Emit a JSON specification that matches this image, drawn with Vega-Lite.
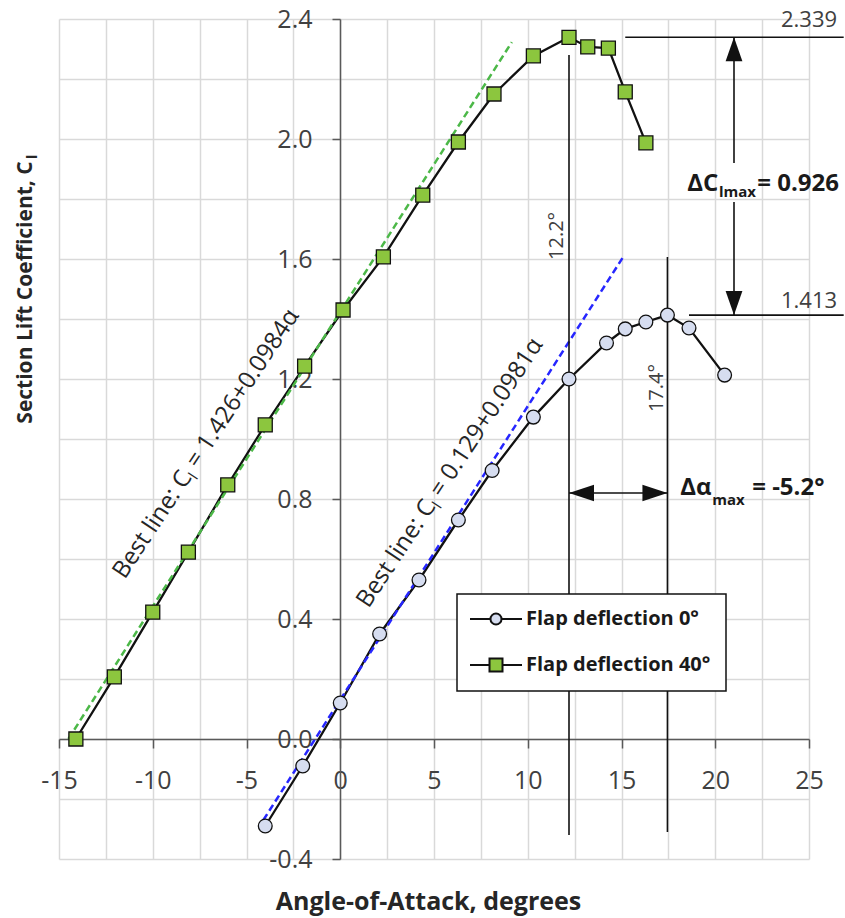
{
  "$schema": "https://vega.github.io/schema/vega-lite/v6.json",
  "width": 750,
  "height": 840,
  "autosize": {"type": "none"},
  "padding": {"left": 59, "top": 19, "right": 36, "bottom": 59},
  "background": "white",
  "config": {"font": "Open Sans", "view": {"stroke": null}},
  "datasets": {
    "curves": [
      {"series": "Flap deflection 0°", "x": -4.0, "y": -0.29},
      {"series": "Flap deflection 0°", "x": -2.0, "y": -0.09},
      {"series": "Flap deflection 0°", "x": 0.0, "y": 0.12},
      {"series": "Flap deflection 0°", "x": 2.1, "y": 0.35},
      {"series": "Flap deflection 0°", "x": 4.2, "y": 0.53},
      {"series": "Flap deflection 0°", "x": 6.3, "y": 0.73},
      {"series": "Flap deflection 0°", "x": 8.1, "y": 0.895},
      {"series": "Flap deflection 0°", "x": 10.3, "y": 1.073},
      {"series": "Flap deflection 0°", "x": 12.2, "y": 1.2},
      {"series": "Flap deflection 0°", "x": 14.2, "y": 1.32},
      {"series": "Flap deflection 0°", "x": 15.2, "y": 1.367},
      {"series": "Flap deflection 0°", "x": 16.3, "y": 1.39},
      {"series": "Flap deflection 0°", "x": 17.45, "y": 1.413},
      {"series": "Flap deflection 0°", "x": 18.6, "y": 1.37},
      {"series": "Flap deflection 0°", "x": 20.5, "y": 1.213},
      {"series": "Flap deflection 40°", "x": -14.1, "y": 0.0},
      {"series": "Flap deflection 40°", "x": -12.05, "y": 0.207},
      {"series": "Flap deflection 40°", "x": -10.0, "y": 0.423},
      {"series": "Flap deflection 40°", "x": -8.1, "y": 0.623},
      {"series": "Flap deflection 40°", "x": -6.0, "y": 0.847},
      {"series": "Flap deflection 40°", "x": -4.0, "y": 1.047},
      {"series": "Flap deflection 40°", "x": -1.9, "y": 1.243},
      {"series": "Flap deflection 40°", "x": 0.15, "y": 1.43},
      {"series": "Flap deflection 40°", "x": 2.3, "y": 1.607},
      {"series": "Flap deflection 40°", "x": 4.4, "y": 1.813},
      {"series": "Flap deflection 40°", "x": 6.3, "y": 1.99},
      {"series": "Flap deflection 40°", "x": 8.2, "y": 2.15},
      {"series": "Flap deflection 40°", "x": 10.3, "y": 2.277},
      {"series": "Flap deflection 40°", "x": 12.2, "y": 2.339},
      {"series": "Flap deflection 40°", "x": 13.2, "y": 2.307},
      {"series": "Flap deflection 40°", "x": 14.3, "y": 2.303},
      {"series": "Flap deflection 40°", "x": 15.2, "y": 2.157},
      {"series": "Flap deflection 40°", "x": 16.3, "y": 1.987}
    ],
    "fits": [
      {"fit": "40", "x": -14.5, "y": 0.0},
      {"fit": "40", "x": 9.15, "y": 2.323},
      {"fit": "0", "x": -4.1, "y": -0.27},
      {"fit": "0", "x": 15.05, "y": 1.603}
    ],
    "rules": [
      {"x": 12.2, "y": 2.28, "x2": 12.2, "y2": -0.32},
      {"x": 17.45, "y": 1.607, "x2": 17.45, "y2": -0.31},
      {"x": 15.2, "y": 2.339, "x2": 26.85, "y2": 2.339},
      {"x": 18.6, "y": 1.413, "x2": 26.85, "y2": 1.413},
      {"x": 21.0, "y": 2.339, "x2": 21.0, "y2": 1.92},
      {"x": 21.0, "y": 1.79, "x2": 21.0, "y2": 1.413},
      {"x": 12.2, "y": 0.82, "x2": 17.45, "y2": 0.82}
    ],
    "heads": [
      {"x": 21.0, "y": 2.339, "dir": "up"},
      {"x": 21.0, "y": 1.413, "dir": "down"},
      {"x": 12.2, "y": 0.82, "dir": "left"},
      {"x": 17.45, "y": 0.82, "dir": "right"}
    ],
    "values": [
      {"x": 26.5, "y": 2.373, "text": "2.339"},
      {"x": 26.5, "y": 1.437, "text": "1.413"}
    ],
    "angles": [
      {"x": 11.57, "y": 1.677, "text": "12.2°"},
      {"x": 16.91, "y": 1.17, "text": "17.4°"}
    ],
    "deltas": [
      {"x": 18.51, "y": 1.827, "text": "ΔC"},
      {"x": 22.24, "y": 1.827, "text": "= 0.926"},
      {"x": 18.13, "y": 0.813, "text": "Δα"},
      {"x": 21.97, "y": 0.813, "text": "= -5.2°"}
    ],
    "subs": [
      {"x": 20.2, "y": 1.807, "text": "lmax"},
      {"x": 19.84, "y": 0.78, "text": "max"}
    ],
    "bestline": [
      {"x": -11.5, "y": 0.53, "p1": "Best line: C", "p2": "l", "p3": "= 1.426+0.0984α"},
      {"x": 1.5, "y": 0.433, "p1": "Best line: C", "p2": "l", "p3": "= 0.129+0.0981α"}
    ],
    "ysub": [
      {"x": -16.16, "y": 1.933, "text": "l"}
    ]
  },
  "layer": [
    {
      "data": {"name": "curves"},
      "mark": {"type": "point", "opacity": 0},
      "encoding": {
        "x": {
          "field": "x", "type": "quantitative",
          "scale": {"domain": [-15, 25], "nice": false, "zero": false},
          "axis": {
            "orient": "bottom",
            "values": [-15, -12.5, -10, -7.5, -5, -2.5, 0, 2.5, 5, 7.5, 10, 12.5, 15, 17.5, 20, 22.5, 25],
            "grid": true, "gridColor": "#d9d9d9", "gridWidth": 1.5,
            "domain": false, "ticks": false, "labels": false, "title": null
          }
        },
        "y": {
          "field": "y", "type": "quantitative",
          "scale": {"domain": [-0.4, 2.4], "nice": false, "zero": false},
          "axis": {
            "orient": "left",
            "values": [-0.4, -0.2, 0, 0.2, 0.4, 0.6, 0.8, 1, 1.2, 1.4, 1.6, 1.8, 2, 2.2, 2.4],
            "grid": true, "gridColor": "#d9d9d9", "gridWidth": 1.5,
            "domain": false, "ticks": false, "labels": false, "title": null
          }
        }
      }
    },
    {
      "encoding": {
        "x": {
          "field": "x", "type": "quantitative",
          "scale": {"domain": [-15, 25], "nice": false, "zero": false},
          "axis": {
            "orient": "bottom",
            "values": [-15, -10, -5, 0, 5, 10, 15, 20, 25],
            "offset": -120,
            "grid": false,
            "domainColor": "#595959", "domainWidth": 1.5,
            "tickColor": "#595959", "tickWidth": 1.5, "tickSize": 9,
            "labelExpr": "replace(datum.label, '−', '-')",
            "labelOverlap": false, "labelBound": false, "labelFlush": false,
            "labelFontSize": 25, "labelColor": "#404040", "labelPadding": 20,
            "title": "Angle-of-Attack, degrees",
            "titleFontSize": 25, "titleFontWeight": "bold", "titleColor": "#262626",
            "titleX": 369, "titleY": 170, "titleAlign": "center", "titleBaseline": "alphabetic", "titleAnchor": null
          }
        },
        "y": {
          "field": "y", "type": "quantitative",
          "scale": {"domain": [-0.4, 2.4], "nice": false, "zero": false},
          "axis": {
            "orient": "left",
            "values": [-0.4, 0, 0.4, 0.8, 1.2, 1.6, 2, 2.4],
            "format": ".1f",
            "offset": -281,
            "grid": false,
            "domainColor": "#595959", "domainWidth": 1.5,
            "tickColor": "#595959", "tickWidth": 1.5, "tickSize": 8,
            "labelExpr": "replace(datum.label, '−', '-')",
            "labelOverlap": false, "labelBound": false, "labelFlush": false,
            "labelFontSize": 25, "labelColor": "#404040", "labelPadding": 20,
            "title": "Section Lift Coefficient, C",
            "titleFontSize": 21, "titleFontWeight": "bold", "titleColor": "#262626",
            "titleAngle": 270, "titleX": -309, "titleY": 273, "titleAlign": "center", "titleBaseline": "alphabetic", "titleAnchor": null
          }
        }
      },
      "layer": [
        {
          "data": {"name": "curves"},
          "mark": {"type": "line", "color": "#111111", "strokeWidth": 2.3},
          "encoding": {"detail": {"field": "series"}}
        },
        {
          "data": {"name": "fits"},
          "mark": {"type": "line", "strokeDash": [7, 4], "strokeWidth": 2.5},
          "encoding": {
            "detail": {"field": "fit"},
            "stroke": {"field": "fit", "type": "nominal", "scale": {"domain": ["40", "0"], "range": ["#4cb848", "#2626ff"]}, "legend": null}
          }
        },
        {
          "data": {"name": "rules"},
          "mark": {"type": "rule", "color": "#111111", "strokeWidth": 1.6},
          "encoding": {"x2": {"field": "x2"}, "y2": {"field": "y2"}}
        },
        {
          "data": {"name": "heads"},
          "transform": [{"filter": "datum.dir === 'up'"}],
          "mark": {"type": "point", "shape": "M0,0L0.35,1L-0.35,1Z", "size": 2304, "filled": true, "color": "#111111", "opacity": 1}
        },
        {
          "data": {"name": "heads"},
          "transform": [{"filter": "datum.dir === 'down'"}],
          "mark": {"type": "point", "shape": "M0,0L0.35,-1L-0.35,-1Z", "size": 2304, "filled": true, "color": "#111111", "opacity": 1}
        },
        {
          "data": {"name": "heads"},
          "transform": [{"filter": "datum.dir === 'left'"}],
          "mark": {"type": "point", "shape": "M0,0L1,0.33L1,-0.33Z", "size": 2500, "filled": true, "color": "#111111", "opacity": 1}
        },
        {
          "data": {"name": "heads"},
          "transform": [{"filter": "datum.dir === 'right'"}],
          "mark": {"type": "point", "shape": "M0,0L-1,0.33L-1,-0.33Z", "size": 2500, "filled": true, "color": "#111111", "opacity": 1}
        },
        {
          "data": {"name": "curves"},
          "transform": [{"filter": "datum.series === 'Flap deflection 0°'"}],
          "mark": {"type": "point", "shape": "circle", "filled": true, "size": 190, "stroke": "#111111", "strokeWidth": 1.3, "opacity": 1},
          "encoding": {
            "fill": {
              "field": "series", "type": "nominal",
              "scale": {"domain": ["Flap deflection 0°", "Flap deflection 40°"], "range": ["#d6ddf0", "#8cc63e"]},
              "legend": {
                "title": null, "orient": "none", "legendX": 398, "legendY": 575,
                "fillColor": "white", "strokeColor": "#111111", "padding": 15,
                "symbolSize": 169, "symbolStrokeColor": "#111111", "symbolStrokeWidth": 2, "symbolOffset": 14, "symbolOpacity": 1,
                "labelFont": "Open Sans", "labelFontSize": 20, "labelFontWeight": "bold", "labelColor": "#1a1a1a", "labelOffset": 20, "labelLimit": 400,
                "rowPadding": 25,
                "encode": {
                  "symbols": {"update": {"shape": {"signal": "datum.value === 'Flap deflection 0°' ? 'M-4,0H-0.85A0.85,0.85 0 1,1 0.85,0A0.85,0.85 0 1,1 -0.85,0M0.85,0H4' : 'M-4,0H-1V-1H1V1H-1V0M1,0H4'"}}},
                  "legend": {"update": {"strokeWidth": {"value": 1.5}}}
                }
              }
            }
          }
        },
        {
          "data": {"name": "curves"},
          "transform": [{"filter": "datum.series === 'Flap deflection 40°'"}],
          "mark": {"type": "point", "shape": "square", "filled": true, "size": 196, "stroke": "#111111", "strokeWidth": 1.3, "opacity": 1},
          "encoding": {
            "fill": {"field": "series", "type": "nominal"}
          }
        },
        {
          "data": {"name": "values"},
          "mark": {"type": "text", "align": "right", "baseline": "alphabetic", "fontSize": 22, "color": "#404040"},
          "encoding": {"text": {"field": "text"}}
        },
        {
          "data": {"name": "angles"},
          "mark": {"type": "text", "angle": 270, "align": "center", "baseline": "middle", "fontSize": 20, "color": "#404040"},
          "encoding": {"text": {"field": "text"}}
        },
        {
          "data": {"name": "deltas"},
          "mark": {"type": "text", "align": "left", "baseline": "alphabetic", "fontSize": 24, "fontWeight": "bold", "color": "#1a1a1a"},
          "encoding": {"text": {"field": "text"}}
        },
        {
          "data": {"name": "subs"},
          "mark": {"type": "text", "align": "left", "baseline": "alphabetic", "fontSize": 15, "fontWeight": "bold", "color": "#1a1a1a"},
          "encoding": {"text": {"field": "text"}}
        },
        {
          "data": {"name": "bestline"},
          "mark": {"type": "text", "angle": 303.5, "align": "left", "baseline": "alphabetic", "fontSize": 24, "color": "#262626"},
          "encoding": {"text": {"field": "p1"}}
        },
        {
          "data": {"name": "bestline"},
          "mark": {"type": "text", "angle": 303.5, "align": "left", "baseline": "alphabetic", "fontSize": 15, "color": "#262626", "dx": 122.7, "dy": 5},
          "encoding": {"text": {"field": "p2"}}
        },
        {
          "data": {"name": "bestline"},
          "mark": {"type": "text", "angle": 303.5, "align": "left", "baseline": "alphabetic", "fontSize": 24, "color": "#262626", "dx": 132.7},
          "encoding": {"text": {"field": "p3"}}
        },
        {
          "data": {"name": "ysub"},
          "mark": {"type": "text", "angle": 270, "align": "left", "baseline": "alphabetic", "fontSize": 14, "fontWeight": "bold", "color": "#262626"},
          "encoding": {"text": {"field": "text"}}
        }
      ]
    }
  ],
  "resolve": {"axis": {"x": "independent", "y": "independent"}}
}
